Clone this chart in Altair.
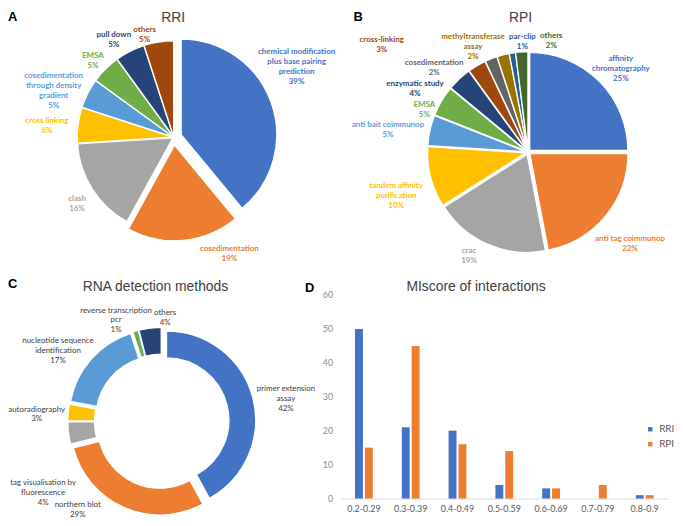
import altair as alt
import pandas as pd
import numpy as np

# ---------------- data ----------------
rri_methods = ["chemical modification\nplus base pairing\nprediction", "cosedimentation", "clash",
               "cross linking", "cosedimentation\nthrough density\ngradient", "EMSA", "pull down", "others"]
rri_pct = [39, 19, 16, 6, 5, 5, 5, 5]
rri_colors = ["#4472C4", "#ED7D31", "#A5A5A5", "#FFC000", "#5B9BD5", "#70AD47", "#264478", "#9E480E"]

rpi_methods = ["affinity\nchromatography", "anti tag coimmunop", "crac", "tandem affinity\npurification",
               "anti bait coimmunop", "EMSA", "enzymatic study", "cross-linking", "cosedimentation",
               "methyltransferase\nassay", "par-clip", "others"]
rpi_pct = [25, 22, 19, 10, 5, 5, 4, 3, 2, 2, 1, 2]
rpi_colors = ["#4472C4", "#ED7D31", "#A5A5A5", "#FFC000", "#5B9BD5", "#70AD47",
              "#264478", "#9E480E", "#636363", "#997300", "#255E91", "#43682B"]

det_methods = ["primer extension\nassay", "northern blot", "tag visualisation by\nfluorescence",
               "autoradiography", "nucleotide sequence\nidentification", "reverse transcription\npcr", "others"]
det_pct = [42, 29, 4, 3, 17, 1, 4]
det_colors = ["#4472C4", "#ED7D31", "#A5A5A5", "#FFC000", "#5B9BD5", "#70AD47", "#264478"]

mi_bins = ["0.2-0.29", "0.3-0.39", "0.4-0.49", "0.5-0.59", "0.6-0.69", "0.7-0.79", "0.8-0.9"]
mi_rri = [50, 21, 20, 4, 3, 0, 1]
mi_rpi = [15, 45, 16, 14, 3, 4, 1]
series = ["RRI", "RPI"]
series_colors = ["#4472C4", "#ED7D31"]

TITLE_FONT = "Liberation Sans"
LABEL_FONT = "Lato"


# ---------------- label layout (computed from the data) ----------------
def layout_labels(mid, ex, hw, hh, cx, cy, R, pad, gap, bounds, iters=400):
    s, c = np.sin(mid), np.cos(mid)
    ext = np.minimum(hw / np.maximum(np.abs(s), 1e-6), hh / np.maximum(np.abs(c), 1e-6))
    r = R + ex + pad + ext
    x = cx + r * s
    y = cy - r * c
    x0, y0 = x.copy(), y.copy()          # ideal positions, used to keep the labels' order
    bx0, bx1, by0, by1 = bounds
    lo_x, hi_x = bx0 + hw, bx1 - hw
    lo_y, hi_y = by0 + hh, by1 - hh
    n = len(x)

    def clampi(i):
        x[i] = min(max(x[i], lo_x[i]), hi_x[i])
        y[i] = min(max(y[i], lo_y[i]), hi_y[i])

    def fix(i):
        need = R + ex[i] + gap
        nx = min(max(cx, x[i] - hw[i]), x[i] + hw[i])
        ny = min(max(cy, y[i] - hh[i]), y[i] + hh[i])
        dx, dy = nx - cx, ny - cy
        d = float(np.hypot(dx, dy))
        if d >= need:
            return
        if d < 1e-6:
            dx, dy = x[i] - cx, y[i] - cy
            d = float(np.hypot(dx, dy)) or 1.0
        ux, uy = dx / d, dy / d
        tx = x[i] + ux * (need - d)
        ty = y[i] + uy * (need - d)
        if ty < lo_y[i] or ty > hi_y[i]:
            ty = min(max(ty, lo_y[i]), hi_y[i])
            ndy = min(max(cy, ty - hh[i]), ty + hh[i]) - cy
            if abs(ndy) < need:
                req = np.sqrt(need ** 2 - ndy ** 2)
                sg = np.sign(x[i] - cx) or 1.0
                tx = cx + sg * (req + hw[i])
        if tx < lo_x[i] or tx > hi_x[i]:
            tx = min(max(tx, lo_x[i]), hi_x[i])
            ndx = min(max(cx, tx - hw[i]), tx + hw[i]) - cx
            if abs(ndx) < need:
                req = np.sqrt(need ** 2 - ndx ** 2)
                sg = np.sign(y[i] - cy) or -1.0
                ty = cy + sg * (req + hh[i])
                ty = min(max(ty, lo_y[i]), hi_y[i])
        x[i], y[i] = tx, ty

    for i in range(n):
        clampi(i)
    for _ in range(iters):
        for i in range(n):
            fix(i)
        for i in range(n):
            for j in range(i + 1, n):
                dx = x[j] - x[i]
                dy = y[j] - y[i]
                ox = hw[i] + hw[j] + 1 - abs(dx)
                oy = hh[i] + hh[j] + 1 - abs(dy)
                if ox > 0 and oy > 0:
                    if ox / (hw[i] + hw[j]) < oy / (hh[i] + hh[j]):
                        sg = np.sign(x0[j] - x0[i]) or np.sign(dx) or 1.0
                        x[i] -= sg * ox / 2
                        x[j] += sg * ox / 2
                    else:
                        sg = np.sign(y0[j] - y0[i]) or np.sign(dy) or 1.0
                        y[i] -= sg * oy / 2
                        y[j] += sg * oy / 2
        for i in range(n):
            clampi(i)
    for i in range(n):
        fix(i)
    return x, y


def note(text, x, y, size, weight="normal", color="#404040", align="center", baseline="top",
         font=TITLE_FONT):
    return alt.Chart(pd.DataFrame({"t": [text]})).mark_text(
        font=font, fontSize=size, fontWeight=weight, color=color, align=align, baseline=baseline
    ).encode(text="t:N", x=alt.value(x), y=alt.value(y))


def pie_panel(names, pcts, colors, explode, cx, cy, R, inner, W, H, bounds, cw, lh, pad,
              font_size, weight, text_color=None, extra=()):
    vals = np.array(pcts, dtype=float)
    tot = float(vals.sum())
    cum = np.cumsum(vals)
    mid = 2 * np.pi * (cum - vals / 2) / tot
    ex = np.array(explode, dtype=float)
    labels = [f"{n}\n{p}%" for n, p in zip(names, pcts)]
    lines = [l.split("\n") for l in labels]
    hw = np.array([max(len(t) for t in L) for L in lines]) * cw / 2 + 1
    hh = np.array([len(L) for L in lines]) * lh / 2
    lx, ly = layout_labels(mid, ex, hw, hh, cx, cy, R, pad, 2.0, bounds)
    df = pd.DataFrame({
        "name": names, "pct": pcts, "idx": list(range(len(names))), "label": labels,
        "acx": cx + ex * np.sin(mid), "acy": cy - ex * np.cos(mid),
        "lx": lx, "ly": ly,
    })
    color = alt.Color("name:N", scale=alt.Scale(domain=names, range=colors), legend=None)
    base = alt.Chart(df)
    arcs = base.transform_window(
        t1="sum(pct)", sort=[alt.SortField("idx")], frame=[None, 0]
    ).transform_calculate(t0="datum.t1 - datum.pct").mark_arc(
        outerRadius=R, innerRadius=inner, stroke="white", strokeWidth=1.2
    ).encode(
        theta=alt.Theta("t0:Q", scale=alt.Scale(domain=[0, tot])),
        theta2="t1:Q",
        x=alt.X("acx:Q", scale=None, stack=False),
        y=alt.Y("acy:Q", scale=None, stack=False),
        color=color,
        order=alt.Order("idx:Q"),
    )
    txt = base.mark_text(
        font=LABEL_FONT, fontSize=font_size, fontWeight=weight, lineBreak="\n", lineHeight=lh,
        align="center", baseline="middle"
    ).encode(
        x=alt.X("lx:Q", scale=None),
        y=alt.Y("ly:Q", scale=None),
        text="label:N",
        color=alt.value(text_color) if text_color else color,
    )
    return alt.layer(arcs, txt, *extra).properties(width=W, height=H)


# ---------------- panels ----------------
panel_a = pie_panel(
    rri_methods, rri_pct, rri_colors, [8, 8, 1, 1, 1, 1, 1, 1],
    cx=167.5, cy=128, R=96.5, inner=0, W=332, H=252, bounds=(0, 332, 10, 251),
    cw=3.75, lh=10, pad=6, font_size=8, weight="bold",
    extra=(note("RRI", 167, 0, 14), note("A", 0, 0, 13, weight="bold", color="black", align="left")),
)

panel_b = pie_panel(
    rpi_methods, rpi_pct, rpi_colors, [2.5] * 12,
    cx=189.5, cy=143, R=99, inner=0, W=335, H=252, bounds=(2, 335, 12, 253),
    cw=3.75, lh=10, pad=6, font_size=8, weight="bold",
    extra=(note("RPI", 182, 0, 14), note("B", 13, 0, 13, weight="bold", color="black", align="left")),
)

panel_c = pie_panel(
    det_methods, det_pct, det_colors, [5] * 7,
    cx=155.4, cy=163, R=90, inner=63, W=336, H=258, bounds=(0, 312, 36, 258),
    cw=3.45, lh=10, pad=5, font_size=8, weight="normal", text_color="#404040",
    extra=(note("RNA detection methods", 149, 27, 14, baseline="middle"),
           note("C", 0, 18, 13, weight="bold", color="black", align="left"),
           note("D", 300, 22, 13, weight="bold", color="black", align="left")),
)

d_df = pd.DataFrame({
    "bin": mi_bins * 2,
    "series": ["RRI"] * len(mi_bins) + ["RPI"] * len(mi_bins),
    "count": mi_rri + mi_rpi,
})
bars = alt.Chart(d_df).mark_bar().encode(
    x=alt.X("bin:N", sort=mi_bins, scale=alt.Scale(paddingInner=0.62, paddingOuter=0.31),
            axis=alt.Axis(title=None, labelAngle=0, ticks=False, domainColor="#d9d9d9",
                          labelPadding=6, labelFontSize=9, labelColor="#595959", labelFont=LABEL_FONT)),
    xOffset=alt.XOffset("series:N", sort=series, scale=alt.Scale(paddingInner=0.2, paddingOuter=0)),
    y=alt.Y("count:Q", scale=alt.Scale(domain=[0, 70.3], nice=False),
            axis=alt.Axis(values=list(range(0, 61, 10)), title=None, domain=False, ticks=False,
                          grid=False, labelPadding=8, labelFontSize=9, labelColor="#8c8c8c",
                          labelFont=LABEL_FONT)),
    color=alt.Color("series:N", sort=series, scale=alt.Scale(domain=series, range=series_colors),
                    legend=alt.Legend(orient="none", legendX=308, legendY=166, title=None,
                                      symbolType="square", symbolSize=20, symbolStrokeWidth=0,
                                      labelFontSize=10, labelColor="#595959", labelFont=LABEL_FONT,
                                      rowPadding=5, padding=0)),
)
panel_d = alt.layer(bars, note("MIscore of interactions", 137, 27, 14, baseline="middle")).properties(
    width=331, height=241
)

chart = alt.concat(
    panel_a, panel_b, panel_c, panel_d,
    columns=2, spacing=0, bounds="flush", align="none", padding=0
).resolve_scale(color="independent", theta="independent").configure_view(stroke=None)

chart.save("out.html", embed_options={"renderer": "svg", "actions": False})
